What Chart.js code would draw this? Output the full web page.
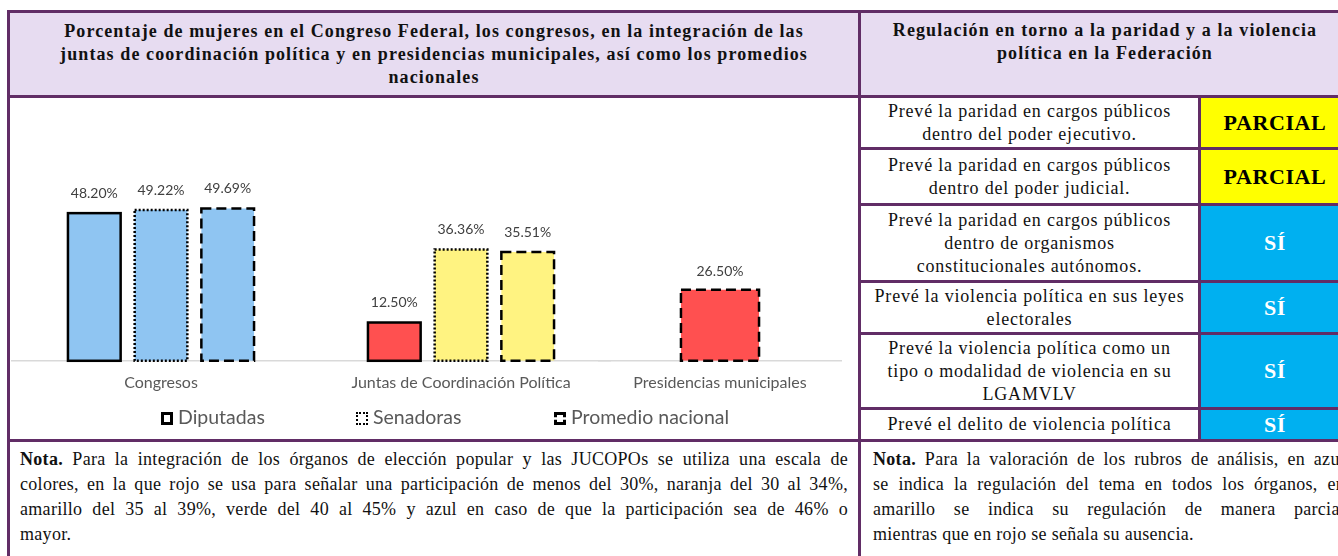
<!DOCTYPE html>
<html lang="es">
<head>
<meta charset="utf-8">
<script src="https://cdn.jsdelivr.net/npm/chart.js@4.4.1/dist/chart.umd.min.js"></script>
<style>
  html, body { margin: 0; padding: 0; background: #fff; }
  body { width: 1338px; height: 556px; overflow: hidden; position: relative; font-family: 'Liberation Serif', serif; color: #111; }
  #frame { position: absolute; left: 7px; top: 10px; width: 1400px; height: 600px; background: #612d66; }
  .cell { position: absolute; background: #fff; box-sizing: border-box; }
  .head { background: #e7dcf1; font-weight: bold; font-size: 18px; letter-spacing: 1.1px; line-height: 23px; text-align: center; white-space: nowrap; }
  .rule { display: flex; align-items: center; justify-content: center; text-align: center; font-size: 18px; letter-spacing: 0.8px; line-height: 23px; white-space: nowrap; }
  .val { display: flex; align-items: center; justify-content: center; font-weight: bold; font-size: 22px; letter-spacing: 0.6px; }
  .parcial { background: #ffff00; color: #000; }
  .si { background: #00b0f0; color: #fff; }
  .nota { position: absolute; font-size: 18px; letter-spacing: 0.3px; line-height: 25px; }
  .nota div { text-align: justify; text-align-last: justify; white-space: nowrap; }
  .nota div.last { text-align: left; text-align-last: left; }
  canvas { position: absolute; }
  .mk { position: absolute; top: 412px; width: 12px; height: 13px; box-sizing: border-box; border: 3px solid #000; }
  .lt { position: absolute; top: 405px; font-family: Lato, sans-serif; font-size: 19.5px; line-height: 24px; color: #595959; }
</style>
</head>
<body>
<div id="frame"></div>

<div class="cell head" style="left:10px; top:13px; width:848px; height:82px; padding-top:7px;">
  Porcentaje de mujeres en el Congreso Federal, los congresos, en la integración de las<br>
  juntas de coordinación política y en presidencias municipales, así como los promedios<br>
  nacionales
</div>
<div class="cell head" style="left:861px; top:13px; width:488px; height:82px; padding-top:6px;">
  Regulación en torno a la paridad y a la violencia<br>
  política en la Federación
</div>

<div class="cell" style="left:10px; top:98px; width:848px; height:341px;"></div>

<div class="cell rule" style="left:861px; top:98px; width:337px; height:49px;">Prevé la paridad en cargos públicos<br>dentro del poder ejecutivo.</div>
<div class="cell val parcial" style="left:1201px; top:98px; width:148px; height:49px;">PARCIAL</div>
<div class="cell rule" style="left:861px; top:150px; width:337px; height:53px;">Prevé la paridad en cargos públicos<br>dentro del poder judicial.</div>
<div class="cell val parcial" style="left:1201px; top:150px; width:148px; height:53px;">PARCIAL</div>
<div class="cell rule" style="left:861px; top:206px; width:337px; height:74px;">Prevé la paridad en cargos públicos<br>dentro de organismos<br>constitucionales autónomos.</div>
<div class="cell val si" style="left:1201px; top:206px; width:148px; height:74px;">SÍ</div>
<div class="cell rule" style="left:861px; top:283px; width:337px; height:49px;">Prevé la violencia política en sus leyes<br>electorales</div>
<div class="cell val si" style="left:1201px; top:283px; width:148px; height:49px;">SÍ</div>
<div class="cell rule" style="left:861px; top:335px; width:337px; height:72px;">Prevé la violencia política como un<br>tipo o modalidad de violencia en su<br>LGAMVLV</div>
<div class="cell val si" style="left:1201px; top:335px; width:148px; height:72px;">SÍ</div>
<div class="cell rule" style="left:861px; top:410px; width:337px; height:29px;">Prevé el delito de violencia política</div>
<div class="cell val si" style="left:1201px; top:410px; width:148px; height:29px;">SÍ</div>

<div class="cell" style="left:10px; top:442px; width:848px; height:200px;"></div>
<div class="cell" style="left:861px; top:442px; width:600px; height:200px;"></div>

<div class="nota" style="left:20px; top:447px; width:828px;">
  <div><b>Nota.</b> Para la integración de los órganos de elección popular y las JUCOPOs se utiliza una escala de</div>
  <div>colores, en la que rojo se usa para señalar una participación de menos del 30%, naranja del 30 al 34%,</div>
  <div>amarillo del 35 al 39%, verde del 40 al 45% y azul en caso de que la participación sea de 46% o</div>
  <div class="last">mayor.</div>
</div>
<div class="nota" style="left:873px; top:447px; width:472px;">
  <div><b>Nota.</b> Para la valoración de los rubros de análisis, en azul</div>
  <div>se indica la regulación del tema en todos los órganos, en</div>
  <div>amarillo se indica su regulación de manera parcial</div>
  <div class="last">mientras que en rojo se señala su ausencia.</div>
</div>

<canvas id="chartLeft" width="600" height="314" style="left:11px; top:98px;"></canvas>
<canvas id="chartRight" width="244" height="314" style="left:598px; top:98px;"></canvas>

<span class="mk" style="left:161px;"></span><span class="lt" style="left:178px;">Diputadas</span>
<span class="mk" style="left:356px; border:2px dotted #000;"></span><span class="lt" style="left:373px;">Senadoras</span>
<span class="mk" style="left:554px; border:3px dashed #000;"></span><span class="lt" style="left:571px;">Promedio nacional</span>

<script>
const categoriesLeft = ['Congresos', 'Juntas de Coordinación Política'];
const categoriesRight = ['Presidencias municipales'];
const seriesNames = ['Diputadas', 'Senadoras', 'Promedio nacional'];
const diputadas = [48.20, 12.50];
const senadoras = [49.22, 36.36];
const promedioNacional = [49.69, 35.51];
const presidenciasPromedio = [26.50];

// escala de colores de la nota: rojo < 30, naranja 30-34, amarillo 35-39, verde 40-45, azul >= 46
function colorFor(v) {
    if (v < 30) return '#ff5050';
    if (v < 35) return '#ffc000';
    if (v < 40) return '#fff381';
    if (v < 46) return '#92d050';
    return '#8fc5f2';
}

const barOutline = {
    id: 'barOutline',
    afterDatasetsDraw(chart, args, opts) {
        const ctx = chart.ctx;
        chart.data.datasets.forEach((ds, i) => {
            const meta = chart.getDatasetMeta(i);
            meta.data.forEach((bar, j) => {
                const v = ds.data[j];
                if (v == null) return;
                const p = bar.getProps(['x', 'y', 'base', 'width'], true);
                ctx.save();
                ctx.strokeStyle = '#000';
                ctx.lineWidth = 2.5;
                ctx.setLineDash(ds.outlineDash || []);
                ctx.strokeRect(p.x - p.width / 2, p.y, p.width, p.base - p.y);
                ctx.restore();

                ctx.save();
                ctx.fillStyle = '#404040';
                ctx.font = '14px Lato';
                ctx.textAlign = 'center';
                ctx.textBaseline = 'middle';
                ctx.fillText(v.toFixed(2) + '%', p.x, p.y - opts.labelGap);
                ctx.restore();
            });
        });
    }
};

function xAxis() {
    return {
        grid: { display: false, drawTicks: false },
        border: { display: true, color: '#d9d9d9', width: 1.5 },
        ticks: { color: '#595959', font: { family: 'Lato', size: 16 }, padding: 12 }
    };
}

new Chart(document.getElementById('chartLeft').getContext('2d'), {
    type: 'bar',
    data: {
        labels: categoriesLeft,
        datasets: [
            { label: seriesNames[0], data: diputadas, backgroundColor: diputadas.map(colorFor), borderWidth: 0, outlineDash: [] },
            { label: seriesNames[1], data: senadoras, backgroundColor: senadoras.map(colorFor), borderWidth: 0, outlineDash: [2, 2] },
            { label: seriesNames[2], data: promedioNacional, backgroundColor: promedioNacional.map(colorFor), borderWidth: 0, outlineDash: [10, 5] }
        ]
    },
    options: {
        responsive: false,
        animation: false,
        datasets: { bar: { categoryPercentage: 0.667, barPercentage: 0.79 } },
        layout: { padding: { top: 79, bottom: 8, left: 0, right: 0 } },
        plugins: { legend: { display: false }, tooltip: { enabled: false }, barOutline: { labelGap: 20 } },
        scales: {
            x: xAxis(),
            y: { display: false, min: 0, max: 60 }
        }
    },
    plugins: [barOutline]
});

new Chart(document.getElementById('chartRight').getContext('2d'), {
    type: 'bar',
    data: {
        labels: categoriesRight,
        datasets: [
            { label: seriesNames[2], data: presidenciasPromedio, backgroundColor: presidenciasPromedio.map(colorFor), borderWidth: 0, outlineDash: [10, 5] }
        ]
    },
    options: {
        responsive: false,
        animation: false,
        datasets: { bar: { categoryPercentage: 0.32, barPercentage: 1 } },
        layout: { padding: { top: 102, bottom: 8, left: 0, right: 0 } },
        plugins: { legend: { display: false }, tooltip: { enabled: false }, barOutline: { labelGap: 18 } },
        scales: {
            x: xAxis(),
            y: { display: false, min: 0, max: 60 }
        }
    },
    plugins: [barOutline]
});
</script>
</body>
</html>
